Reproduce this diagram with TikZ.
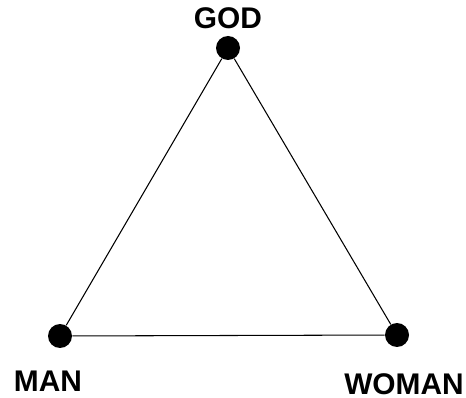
\documentclass[tikz,border=0pt]{standalone}
\usepackage{fontspec}
\setmainfont{Liberation Sans}
\usetikzlibrary{positioning}

\begin{document}
\begin{tikzpicture}[
  x=0.02cm, y=-0.02cm,
  vertex/.style={circle, fill=black, inner sep=0pt, minimum size=0.48cm},
  personlabel/.style={font=\fontsize{17}{20}\selectfont\bfseries},
  edge/.style={draw=black, line width=0.6pt}
]
  \useasboundingbox (0,0) rectangle (466,398);

  \node[vertex] (god) at (228,48) {};
  \node[vertex] (man) at (60,336) {};
  \node[vertex] (woman) at (397,335) {};

  \node[personlabel] (godlabel) at (228,18) {GOD};
  \node[personlabel] (manlabel) at (48,381) {MAN};
  \node[personlabel] (womanlabel) at (404,384) {WOMAN};

  \path[edge] (god) -- (man);
  \path[edge] (man) -- (woman);
  \path[edge] (woman) -- (god);

\end{tikzpicture}
\end{document}
